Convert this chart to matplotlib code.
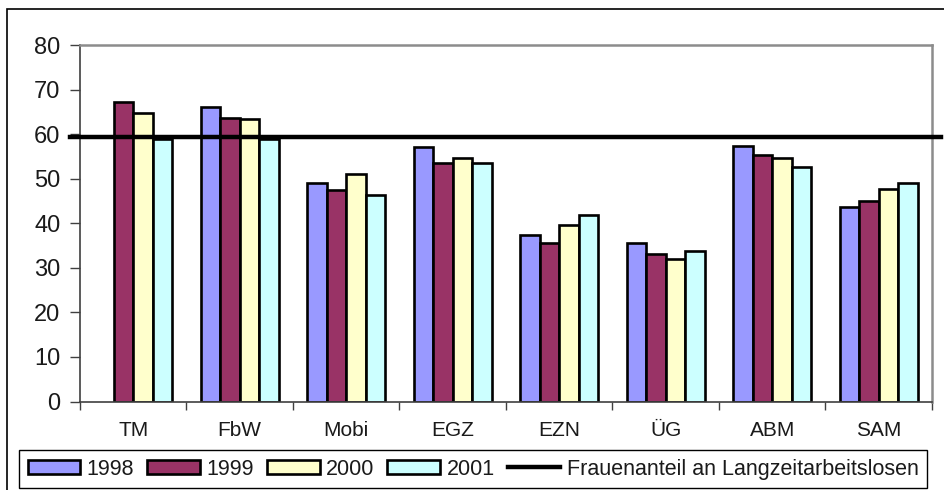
import numpy as np
import matplotlib.pyplot as plt
from matplotlib.patches import Rectangle

plt.rcParams['font.family'] = ['Liberation Sans', 'DejaVu Sans']

# data
categories = ['TM', 'FbW', 'Mobi', 'EGZ', 'EZN', 'ÜG', 'ABM', 'SAM']
years = ['1998', '1999', '2000', '2001']
v1998 = [np.nan, 66.0, 49.0, 57.1, 37.3, 35.6, 57.4, 43.6]
v1999 = [67.2, 63.6, 47.5, 53.6, 35.5, 33.1, 55.4, 45.1]
v2000 = [64.8, 63.5, 51.1, 54.6, 39.5, 31.9, 54.6, 47.6]
v2001 = [58.9, 58.9, 46.4, 53.5, 41.8, 33.8, 52.6, 49.1]
frauenanteil = 59.4

colors = ['#9999FF', '#993366', '#FFFFCC', '#CCFFFF']

fig = plt.figure(figsize=(9.45, 4.9), dpi=100)
ax = fig.add_axes([80/945, 1-401.5/490, (932-80)/945, (401.5-45)/490])

# outer chart frame
fig.patches.append(Rectangle((7/945, -0.01), 1.0, 1 - 9.5/490 + 0.01,
                             transform=fig.transFigure, fill=False,
                             edgecolor='black', linewidth=1.2, zorder=0))

x = np.arange(len(categories)) + 0.5
w = 0.183
series = [v1998, v1999, v2000, v2001]
handles = []
for i, vals in enumerate(series):
    b = ax.bar(x + (i - 1.5) * w, vals, width=w, color=colors[i],
               edgecolor='black', linewidth=1.9, label=years[i], zorder=2)
    handles.append(b)

line, = ax.plot([-0.094, 8.085], [frauenanteil, frauenanteil], color='black',
                linewidth=3.2, clip_on=False, zorder=3,
                label='Frauenanteil an Langzeitarbeitslosen')

ax.set_xlim(0, 8)
ax.set_ylim(0, 80)
ax.set_yticks(range(0, 81, 10))
ax.set_xticks(np.arange(0, 9))
ax.set_xticklabels([])
ax.set_xticks(x, minor=True)
ax.set_xticklabels(categories, minor=True)
ax.tick_params(axis='x', which='major', direction='out', length=6, width=1, color='#404040')
ax.tick_params(axis='x', which='minor', length=0, pad=14, labelsize=15, labelcolor='#1a1a1a')
ax.tick_params(axis='y', direction='out', length=7, width=1, color='#404040',
               pad=7, labelsize=17, labelcolor='#1a1a1a')

for s in ['top', 'right']:
    ax.spines[s].set_color('#8c8c8c')
    ax.spines[s].set_linewidth(1.8)
for s in ['left', 'bottom']:
    ax.spines[s].set_color('#404040')
    ax.spines[s].set_linewidth(1.2)

leg = fig.legend(handles=handles + [line], ncol=5, loc='upper left',
                 bbox_to_anchor=(19/945, 1-450/490),
                 fontsize=15.5, handlelength=2.45, handleheight=0.6,
                 handletextpad=0.3, columnspacing=0.6, borderpad=0.4,
                 borderaxespad=0, fancybox=False, framealpha=1, edgecolor='black')
leg.get_frame().set_linewidth(1.0)
for t in leg.get_texts():
    t.set_color('#1a1a1a')

fig.savefig('out.png', dpi=100)
